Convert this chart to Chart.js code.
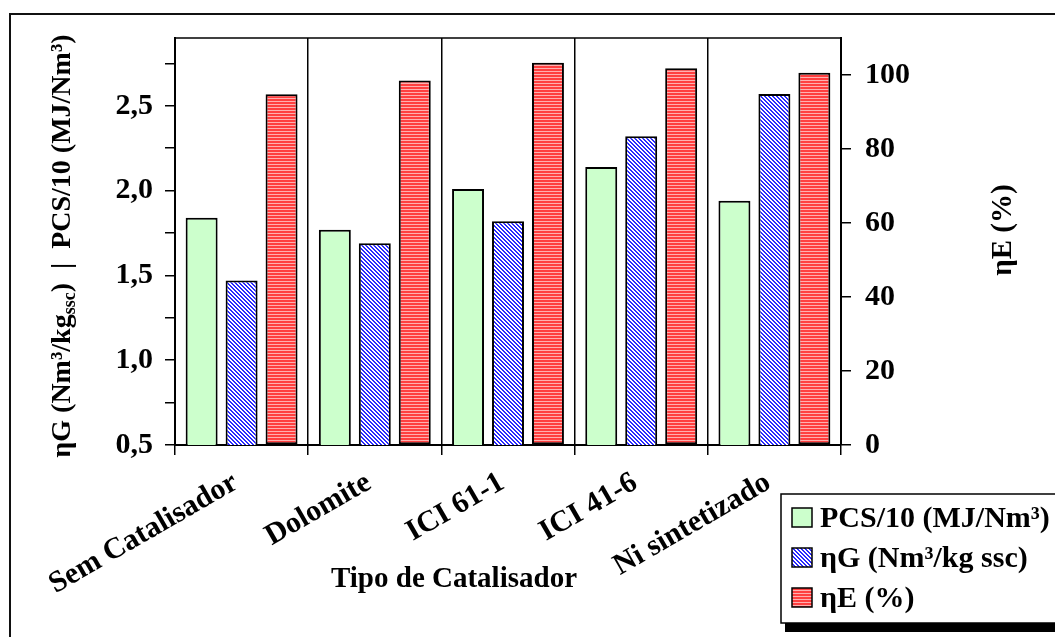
<!DOCTYPE html>
<html>
<head>
<meta charset="utf-8">
<script src="https://cdn.jsdelivr.net/npm/chart.js@4/dist/chart.umd.min.js"></script>
<style>
  html, body { margin: 0; padding: 0; background: #fff; }
  #wrap { width: 1055px; height: 637px; }
</style>
</head>
<body>
<div id="wrap"><canvas id="barChart" width="1055" height="637"></canvas></div>
<script>
// data
var categories = ['Sem Catalisador', 'Dolomite', 'ICI 61-1', 'ICI 41-6', 'Ni sintetizado'];
var pcsValues = [1.84, 1.77, 2.01, 2.14, 1.94];     // PCS/10 (MJ/Nm3), left axis
var etaGValues = [1.47, 1.69, 1.82, 2.32, 2.57];    // etaG (Nm3/kg ssc), left axis
var etaEValues = [94.8, 98.5, 103.3, 101.8, 100.6]; // etaE (%), right axis
var leftRange = [0.5, 2.9];
var rightRange = [0, 110];

var FONT = 'Liberation Serif, Times New Roman, serif';

//-------------
//- patterns  -
//-------------
function makePattern(draw, w, h) {
  var c = document.createElement('canvas');
  c.width = w; c.height = h;
  var g = c.getContext('2d');
  draw(g);
  return document.createElement('canvas').getContext('2d').createPattern(c, 'repeat');
}

var bluePattern = makePattern(function(g) {
  g.fillStyle = '#ffffff';
  g.fillRect(0, 0, 4, 4);
  g.fillStyle = '#2a2aff';
  for (var i = 0; i < 4; i++) {
    g.fillRect(i, i, 1, 1);
    g.fillRect((i + 1) % 4, i, 1, 1);
  }
}, 4, 4);

var redPattern = makePattern(function(g) {
  g.fillStyle = '#ff4040';
  g.fillRect(0, 0, 4, 3);
  g.fillStyle = '#ffb0b0';
  g.fillRect(0, 2, 4, 1);
}, 4, 3);

function commaNum(v) {
  return v.toFixed(1).replace('.', ',');
}

// titles, frame, plot border and the boxed legend
var decorPlugin = {
  id: 'decor',
  afterDraw: function(chart) {
    var ctx = chart.ctx;
    var area = chart.chartArea;
    ctx.save();

    // outer frame (runs off the right and bottom edge)
    ctx.strokeStyle = '#111';
    ctx.lineWidth = 2;
    ctx.strokeRect(10, 14, 1100, 700);

    // top border of the plot area
    ctx.lineWidth = 1.5;
    ctx.strokeStyle = '#000';
    ctx.beginPath();
    ctx.moveTo(area.left, area.top);
    ctx.lineTo(area.right, area.top);
    ctx.stroke();

    ctx.fillStyle = '#000';
    ctx.textBaseline = 'middle';

    // left axis title with subscript
    ctx.save();
    ctx.translate(63, 246);
    ctx.rotate(-Math.PI / 2);
    var big = 'bold 28px ' + FONT;
    var small = 'bold 18px ' + FONT;
    var parts = [
      ['ηG (Nm³/kg', big, 0],
      ['ssc', small, 7],
      [')  |  PCS/10 (MJ/Nm³)', big, 0]
    ];
    var total = 0;
    parts.forEach(function(p) { ctx.font = p[1]; total += ctx.measureText(p[0]).width; });
    var x = -total / 2;
    ctx.textAlign = 'left';
    parts.forEach(function(p) {
      ctx.font = p[1];
      ctx.fillText(p[0], x, p[2]);
      x += ctx.measureText(p[0]).width;
    });
    ctx.restore();

    // right axis title
    ctx.save();
    ctx.translate(1004, 230);
    ctx.rotate(-Math.PI / 2);
    ctx.textAlign = 'center';
    ctx.font = 'bold 29px ' + FONT;
    ctx.fillText('ηE (%)', 0, 0);
    ctx.restore();

    // x axis title
    ctx.textAlign = 'center';
    ctx.font = 'bold 29px ' + FONT;
    ctx.fillText('Tipo de Catalisador', 454, 580);

    // legend box with shadow
    ctx.fillStyle = '#000';
    ctx.fillRect(785, 623, 280, 9);
    ctx.fillStyle = '#fff';
    ctx.fillRect(781, 494, 300, 129);
    ctx.lineWidth = 1.5;
    ctx.strokeStyle = '#000';
    ctx.strokeRect(781, 494, 300, 129);

    var rowsY = [518, 558, 598];
    ctx.textAlign = 'left';
    ctx.font = 'bold 30px ' + FONT;
    chart.data.datasets.forEach(function(ds, i) {
      var y = rowsY[i];
      ctx.fillStyle = ds.backgroundColor;
      ctx.fillRect(792, y - 10, 20, 19);
      ctx.strokeRect(792, y - 10, 20, 19);
      ctx.fillStyle = '#000';
      ctx.fillText(ds.label, 820, y + 1);
    });

    ctx.restore();
  }
};

var barChartCanvas = document.getElementById('barChart').getContext('2d');
var barChart = new Chart(barChartCanvas, {
  type: 'bar',
  data: {
    labels: categories,
    datasets: [{
        label: 'PCS/10 (MJ/Nm³)',
        data: pcsValues,
        yAxisID: 'yLeft',
        backgroundColor: '#ccffcc'
      },
      {
        label: 'ηG (Nm³/kg ssc)',
        data: etaGValues,
        yAxisID: 'yLeft',
        backgroundColor: bluePattern
      },
      {
        label: 'ηE (%)',
        data: etaEValues,
        yAxisID: 'yRight',
        backgroundColor: redPattern
      }
    ]
  },
  options: {
    responsive: false,
    animation: false,
    devicePixelRatio: 1,
    layout: { padding: { top: 38, left: 0, right: 0, bottom: 0 } },
    datasets: {
      bar: {
        categoryPercentage: 0.9,
        barPercentage: 0.8,
        borderColor: '#000',
        borderWidth: 2,
        borderSkipped: false
      }
    },
    plugins: {
      legend: { display: false },
      tooltip: { enabled: false },
      title: { display: false }
    },
    scales: {
      x: {
        offset: true,
        grid: {
          offset: true,
          color: '#000',
          lineWidth: 1.5,
          tickLength: 10,
          drawOnChartArea: true
        },
        border: { display: true, color: '#000', width: 2 },
        ticks: {
          color: '#000',
          font: { family: FONT, size: 30, weight: 'bold' },
          minRotation: 30,
          maxRotation: 30,
          padding: 10,
          labelOffset: -6,
          autoSkip: false
        },
        afterFit: function(scale) { scale.height = 192; }
      },
      yLeft: {
        type: 'linear',
        position: 'left',
        min: leftRange[0],
        max: leftRange[1],
        grid: {
          drawOnChartArea: false,
          color: '#000',
          lineWidth: 1.5,
          tickLength: 10
        },
        border: { display: true, color: '#000', width: 2 },
        ticks: {
          stepSize: 0.25,
          includeBounds: false,
          color: '#000',
          padding: 12,
          font: { family: FONT, size: 30, weight: 'bold' },
          callback: function(v) {
            return Math.abs(v * 2 - Math.round(v * 2)) < 1e-6 ? commaNum(v) : '';
          }
        },
        afterFit: function(scale) { scale.width = 175; }
      },
      yRight: {
        type: 'linear',
        position: 'right',
        min: rightRange[0],
        max: rightRange[1],
        grid: {
          drawOnChartArea: false,
          color: '#000',
          lineWidth: 1.5,
          tickLength: 10
        },
        border: { display: true, color: '#000', width: 2 },
        ticks: {
          stepSize: 20,
          includeBounds: false,
          color: '#000',
          padding: 14,
          font: { family: FONT, size: 30, weight: 'bold' }
        },
        afterFit: function(scale) { scale.width = 214; }
      }
    }
  },
  plugins: [decorPlugin]
});
</script>
</body>
</html>
